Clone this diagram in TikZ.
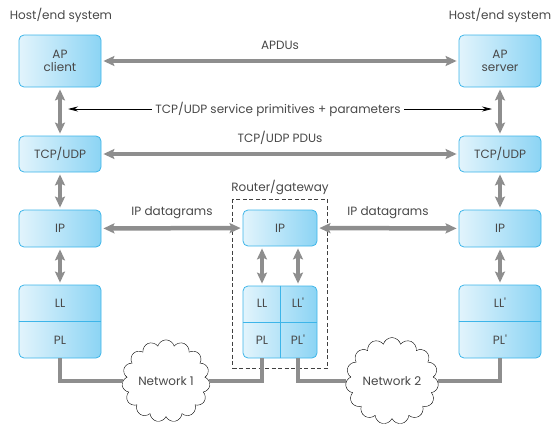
\documentclass[tikz,border=0pt]{standalone}
\usepackage{fontspec}
\setmainfont{Poppins}
\usepackage{tikz}
\usetikzlibrary{
  arrows.meta,
  positioning,
  fit,
  shapes.symbols
}
\definecolor{boxlight}{HTML}{E2F4FC}
\definecolor{boxdark}{HTML}{8CD4F4}
\definecolor{boxedge}{HTML}{3DB5E9}
\definecolor{pipegray}{HTML}{8E8E8E}
\definecolor{txtgray}{HTML}{484848}
\newcommand{\lblfont}{\fontsize{12}{13.5}\selectfont}
\newcommand{\tick}{\textquotesingle}

\begin{document}
\begin{tikzpicture}[x=1pt, y=-1pt,
  layer/.style={draw=boxedge, line width=0.8pt, left color=boxlight,
                right color=boxdark, rounded corners=5pt,
                minimum width=82pt, font=\lblfont, text=txtgray, align=center},
  divider/.style={draw=boxedge, line width=0.8pt},
  lbl/.style={font=\lblfont, text=txtgray},
  pipe/.style={line width=4.5pt, draw=pipegray},
  dbl/.style={pipe, {Stealth[length=11pt, width=10pt, inset=2pt]}-{Stealth[length=11pt, width=10pt, inset=2pt]},
              shorten <=2pt, shorten >=2pt},
  prim/.style={-{Stealth[length=10pt, width=5pt]}, line width=0.8pt, black},
  net/.style={cloud, draw, cloud puffs=15, aspect=1.1, fill=white,
              minimum width=87pt, minimum height=78pt, font=\lblfont,
              text=txtgray, inner sep=0pt},
  routerbox/.style={draw=black!75, line width=1pt, dash pattern=on 4pt off 2.5pt,
                    inner sep=10pt},
]
  \useasboundingbox (0,0) rectangle (555,431);

  % host on the left
  \node[lbl] (hostc) at (61,15) {Host/end system};
  \node[layer, minimum height=52pt] (apc) at (60,61) {AP\\client};
  \node[layer, minimum height=36pt] (tcpc) at (60,154) {TCP/UDP};
  \node[layer, minimum height=37pt] (ipc) at (60,228.5) {IP};
  \node[layer, minimum height=73pt] (lowc) at (60,321.5) {};
  \draw[divider] (lowc.west) -- (lowc.east);
  \node[lbl] (llc) at (60,303) {LL};
  \node[lbl] (plc) at (60,340) {PL};

  % host on the right
  \node[lbl] (hosts) at (500,15) {Host/end system};
  \node[layer, minimum height=52pt] (aps) at (500,61) {AP\\server};
  \node[layer, minimum height=36pt] (tcps) at (500,154) {TCP/UDP};
  \node[layer, minimum height=37pt] (ips) at (500,228.5) {IP};
  \node[layer, minimum height=73pt] (lows) at (500,321.5) {};
  \draw[divider] (lows.west) -- (lows.east);
  \node[lbl] (lls) at (500,303) {LL\tick};
  \node[lbl] (pls) at (500,340) {PL\tick};

  % router / gateway
  \node[layer, minimum width=74pt, minimum height=36pt] (ipr) at (280,228) {IP};
  \node[layer, minimum width=74pt, minimum height=72pt] (lowr) at (280,322) {};
  \draw[divider] (lowr.west) -- (lowr.east);
  \draw[divider] (lowr.north) -- (lowr.south);
  \node[lbl] (llr) at (262,303) {LL};
  \node[lbl] (llr2) at (298,303) {LL\tick};
  \node[lbl] (plr) at (262,340) {PL};
  \node[lbl] (plr2) at (298,340) {PL\tick};
  \node[routerbox, fit=(ipr) (lowr)] (router) {};
  \node[lbl, above=1pt of router] (routerlbl) {Router/gateway};

  % peer exchanges
  \draw[dbl] (apc) -- (aps) node[lbl, midway, above=6pt] {APDUs};
  \draw[dbl] (tcpc) -- (tcps) node[lbl, midway, above=4pt] {TCP/UDP PDUs};
  \draw[dbl] (ipc) -- (ipr) node[lbl, midway, above=4pt] {IP datagrams};
  \draw[dbl] (ipr) -- (ips) node[lbl, midway, above=4pt] {IP datagrams};

  % service primitives
  \node[lbl] (primtxt) at (278,109) {TCP/UDP service primitives + parameters};
  \coordinate (primL) at (68,109);
  \coordinate (primR) at (492,109);
  \draw[prim] (primtxt.west) -- (primL);
  \draw[prim] (primtxt.east) -- (primR);

  % layer to layer
  \draw[dbl] (apc) -- (tcpc);
  \draw[dbl] (tcpc) -- (ipc);
  \draw[dbl] (ipc) -- (lowc);
  \draw[dbl] (aps) -- (tcps);
  \draw[dbl] (tcps) -- (ips);
  \draw[dbl] (ips) -- (lows);
  \draw[dbl] ([xshift=-18pt]ipr.south) -- ([xshift=-18pt]lowr.north);
  \draw[dbl] ([xshift=18pt]ipr.south) -- ([xshift=18pt]lowr.north);

  % networks
  \node[net] (net1) at (166,381) {Network 1};
  \node[net] (net2) at (392,381) {Network 2};
  \draw[pipe] (lowc.south) |- (net1.west);
  \draw[pipe] (net1.east) -| ([xshift=-18pt]lowr.south);
  \draw[pipe] ([xshift=18pt]lowr.south) |- (net2.west);
  \draw[pipe] (net2.east) -| (lows.south);
\end{tikzpicture}
\end{document}
